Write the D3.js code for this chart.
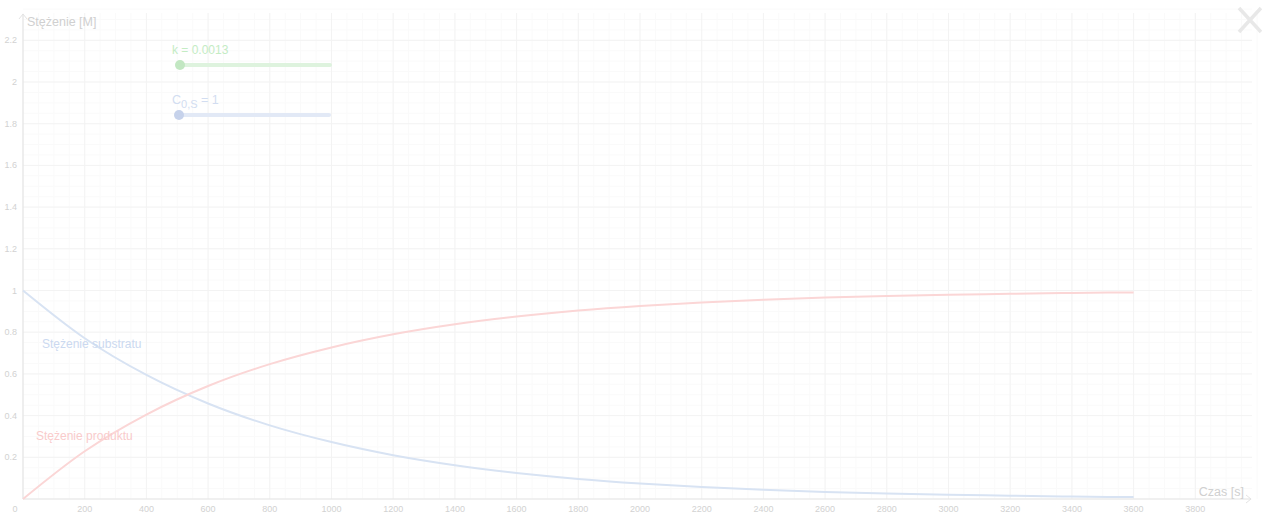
<!DOCTYPE html>
<html>
  <head>
    <meta charset="utf-8">
    <title>Stężenie</title>
    <style>
      body { margin: 0; background: #fff; }
      svg { display: block; font-family: "Liberation Sans", Arial, sans-serif; }
      .tick { fill: #d2d2d2; font-size: 9px; }
    </style>
  </head>
  <body>
    <div id="chart"></div>
    <script src="https://d3js.org/d3.v7.min.js"></script>
    <script>
    // values
    var time = [0, 200, 400, 600, 800, 1000, 1200, 1400, 1600, 1800, 2000,
                2200, 2400, 2600, 2800, 3000, 3200, 3400, 3600]
    var substrat = [1, 0.771, 0.595, 0.458, 0.353, 0.273, 0.21, 0.162, 0.125, 0.096, 0.074,
                    0.057, 0.044, 0.034, 0.026, 0.02, 0.016, 0.012, 0.009]
    var produkt = [0, 0.229, 0.405, 0.542, 0.647, 0.727, 0.79, 0.838, 0.875, 0.904, 0.926,
                   0.943, 0.956, 0.966, 0.974, 0.98, 0.984, 0.988, 0.991]
    var xTicks = [200, 400, 600, 800, 1000, 1200, 1400, 1600, 1800, 2000, 2200, 2400,
                  2600, 2800, 3000, 3200, 3400, 3600, 3800]
    var yTicks = [0.2, 0.4, 0.6, 0.8, 1, 1.2, 1.4, 1.6, 1.8, 2, 2.2]

    var width = 1262,
        height = 513

    var x = d3.scaleLinear().domain([0, 3600]).range([23, 1133.6])
    var y = d3.scaleLinear().domain([0, 2.2]).range([499, 40.3])

    var svg = d3.select('#chart').append('svg')
        .attr('width', width)
        .attr('height', height)

    // grid: minor every quarter, major at ticks
    var grid = svg.append('g')
    var minorX = d3.range(0, 4050, 50), minorY = d3.range(0, 2.45, 0.05)
    grid.selectAll('.mx').data(minorX).enter().append('line')
        .attr('x1', d => x(d)).attr('x2', d => x(d))
        .attr('y1', 13).attr('y2', 499)
        .attr('stroke', '#fafafa')
    grid.selectAll('.my').data(minorY).enter().append('line')
        .attr('y1', d => y(d)).attr('y2', d => y(d))
        .attr('x1', 23).attr('x2', 1252)
        .attr('stroke', '#fafafa')
    grid.selectAll('.gx').data(xTicks).enter().append('line')
        .attr('x1', d => x(d)).attr('x2', d => x(d))
        .attr('y1', 13).attr('y2', 499)
        .attr('stroke', '#f3f3f3')
    grid.selectAll('.gy').data(yTicks).enter().append('line')
        .attr('y1', d => y(d)).attr('y2', d => y(d))
        .attr('x1', 23).attr('x2', 1252)
        .attr('stroke', '#f3f3f3')

    // axes
    var axisCol = '#e4e4e4'
    svg.append('line').attr('x1', 23).attr('x2', 1251).attr('y1', 499).attr('y2', 499)
        .attr('stroke', axisCol).attr('stroke-width', 1.2)
    svg.append('line').attr('x1', 23).attr('x2', 23).attr('y1', 499).attr('y2', 14)
        .attr('stroke', axisCol).attr('stroke-width', 1.2)
    svg.append('path').attr('d', 'M1246,495 L1251,499 L1246,503')
        .attr('fill', 'none').attr('stroke', axisCol)
    svg.append('path').attr('d', 'M19,19 L23,14 L27,19')
        .attr('fill', 'none').attr('stroke', axisCol)

    svg.selectAll('.xt').data(xTicks).enter().append('text')
        .attr('class', 'tick')
        .attr('x', d => x(d)).attr('y', 512)
        .attr('text-anchor', 'middle')
        .text(d => d)
    svg.append('text').attr('class', 'tick').attr('x', 15).attr('y', 512)
        .attr('text-anchor', 'middle').text('0')
    svg.selectAll('.yt').data(yTicks).enter().append('text')
        .attr('class', 'tick')
        .attr('x', 17).attr('y', d => y(d) + 3)
        .attr('text-anchor', 'end')
        .text(d => d)

    svg.append('text').attr('x', 27).attr('y', 26)
        .attr('fill', '#d0d0d0').style('font-size', '12.5px').text('Stężenie [M]')
    svg.append('text').attr('x', 1244).attr('y', 496)
        .attr('text-anchor', 'end')
        .attr('fill', '#d0d0d0').style('font-size', '12.5px').text('Czas [s]')

    // curves
    var line = d3.line()
        .x(d => x(d[0]))
        .y(d => y(d[1]))
        .curve(d3.curveMonotoneX)

    svg.append('path')
        .datum(d3.zip(time, substrat))
        .attr('d', line)
        .attr('fill', 'none')
        .attr('stroke', '#d8e3f3')
        .attr('stroke-width', 2)
    svg.append('path')
        .datum(d3.zip(time, produkt))
        .attr('d', line)
        .attr('fill', 'none')
        .attr('stroke', '#fbd6d6')
        .attr('stroke-width', 2)

    svg.append('text').attr('x', 42).attr('y', 348)
        .attr('fill', '#cbd9f0').style('font-size', '12px').text('Stężenie substratu')
    svg.append('text').attr('x', 36).attr('y', 440)
        .attr('fill', '#f9cbcb').style('font-size', '12px').text('Stężenie produktu')

    // sliders
    svg.append('line').attr('x1', 180).attr('x2', 330).attr('y1', 65).attr('y2', 65)
        .attr('stroke', '#def3de').attr('stroke-width', 4).attr('stroke-linecap', 'round')
    svg.append('circle').attr('cx', 180).attr('cy', 65).attr('r', 5)
        .attr('fill', '#c2e7c2')
    svg.append('text').attr('x', 172).attr('y', 54)
        .attr('fill', '#c4ecc4').style('font-size', '12px').text('k = 0.0013')

    svg.append('line').attr('x1', 179).attr('x2', 329).attr('y1', 115).attr('y2', 115)
        .attr('stroke', '#e2e9f6').attr('stroke-width', 4).attr('stroke-linecap', 'round')
    svg.append('circle').attr('cx', 179).attr('cy', 115).attr('r', 5)
        .attr('fill', '#c6d2eb')
    var c0 = svg.append('text').attr('x', 172).attr('y', 104)
        .attr('fill', '#d2ddf1').style('font-size', '12.5px')
    c0.append('tspan').text('C')
    c0.append('tspan').attr('dy', 4).style('font-size', '11px').text('0,S')
    c0.append('tspan').attr('dy', -4).text(' = 1')

    // close mark
    svg.append('path').attr('d', 'M1239,8 L1261,32 M1261,8 L1239,32')
        .attr('stroke', '#e8e8e8').attr('stroke-width', 3.5)
    </script>
  </body>
</html>
